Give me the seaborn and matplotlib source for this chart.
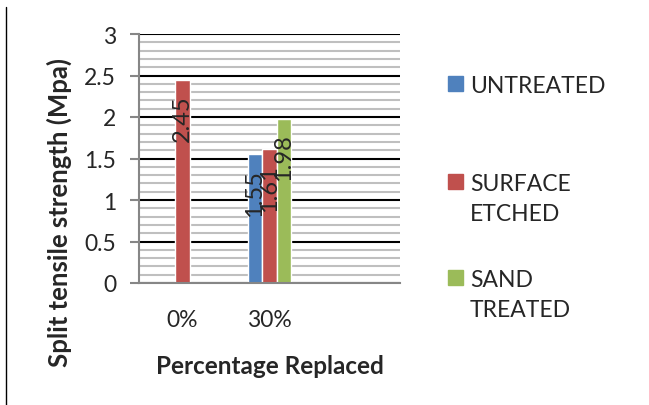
import matplotlib
matplotlib.use("Agg")
import matplotlib.pyplot as plt
import matplotlib.lines as mlines
import matplotlib.patches as mpatches
import seaborn as sns
import numpy as np
import pandas as pd

categories = ['0%', '30%', ' ']
series = ['UNTREATED', 'SURFACE ETCHED', 'SAND TREATED']
untreated = [np.nan, 1.55, np.nan]
surface_etched = [2.45, 1.61, np.nan]
sand_treated = [np.nan, 1.98, np.nan]
colors = ['#4F81BD', '#C0504D', '#9BBB59']
legend_labels = ['UNTREATED', 'SURFACE\nETCHED', 'SAND\nTREATED']

rows = []
for s, vals in zip(series, [untreated, surface_etched, sand_treated]):
    for c, v in zip(categories, vals):
        rows.append({'Percentage': c, 'Series': s, 'Value': v})
df = pd.DataFrame(rows)

sns.set_style('white')
plt.rcParams['font.family'] = ['Lato', 'DejaVu Sans']

W, H = 649, 406
fig = plt.figure(figsize=(W/100, H/100), dpi=100)
ax = fig.add_axes([139/W, 1-284/H, 261/W, 249/H])

sns.barplot(data=df, x='Percentage', y='Value', hue='Series', order=categories,
            hue_order=series, palette=colors, width=0.5, gap=0, saturation=1,
            ax=ax, legend=False)

ax.set_ylim(0, 3)
ax.set_yticks(np.arange(0, 3.01, 0.5))
ax.set_yticklabels(['0', '0.5', '1', '1.5', '2', '2.5', '3'])
ax.set_yticks(np.arange(0, 3.01, 0.1), minor=True)
ax.grid(which='major', axis='y', color='black', linewidth=1.5)
ax.grid(which='minor', axis='y', color='#BFBFBF', linewidth=1.5)
ax.set_axisbelow(True)
for side in ['top', 'right']:
    ax.spines[side].set_visible(False)
for side in ['left', 'bottom']:
    ax.spines[side].set_color('#868686')
    ax.spines[side].set_linewidth(1.5)
ax.tick_params(axis='y', which='major', left=True, length=6.5, width=1.5,
               color='#868686', labelsize=16.5, pad=10)
ax.tick_params(axis='y', which='minor', left=False)
ax.tick_params(axis='x', bottom=False, labelsize=16.5, pad=15)

# data labels, rotated, inside end
for cont in ax.containers:
    for bar in cont:
        h = bar.get_height()
        if np.isnan(h) or h == 0:
            continue
        ax.annotate(f'{h:.2f}', (bar.get_x() + bar.get_width()/2, h),
                    xytext=(0, -15), textcoords='offset pixels',
                    rotation=90, ha='center', va='top', fontsize=17)

ax.set_xlabel('Percentage Replaced', fontsize=17.5, fontweight='bold')
ax.set_ylabel('Split tensile strength (Mpa)', fontsize=18.5, fontweight='bold')
ax.xaxis.set_label_coords(0.5, -0.285)
ax.yaxis.set_label_coords(-0.257, 0.289)

# legend on the right, first line of each entry next to its square
for lab, col, y in zip(legend_labels, colors, [84, 182, 278]):
    fig.add_artist(mpatches.Rectangle((448/W, 1-(y+7.5)/H), 15/W, 15/H,
                                      color=col, transform=fig.transFigure))
    fig.text(470/W, 1-(y-8)/H, lab, ha='left', va='top', fontsize=16.5,
             linespacing=1.55)

fig.add_artist(mlines.Line2D([6/W, 6/W], [0, 1-8/H], color='black',
                             linewidth=1, transform=fig.transFigure))

fig.savefig('out.png', dpi=100)
